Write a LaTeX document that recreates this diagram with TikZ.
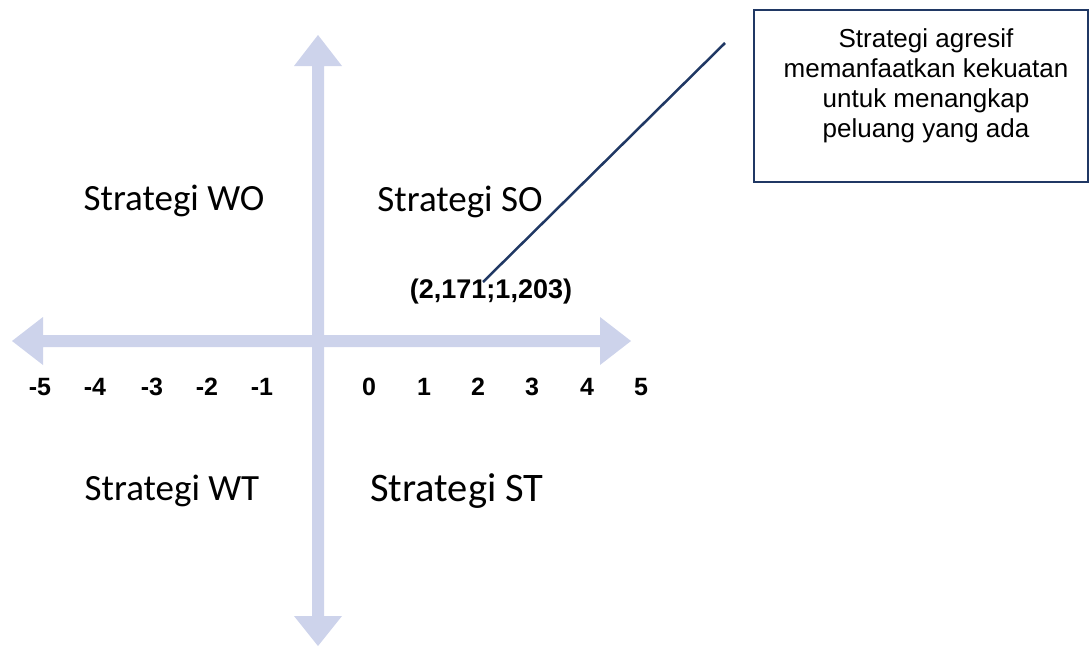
\documentclass[tikz,border=0pt]{standalone}
\usepackage{fontspec}
\setmainfont{Liberation Sans}
\newfontfamily\calibri{Carlito}
\definecolor{axiscol}{RGB}{205,211,235}
\definecolor{navy}{RGB}{32,56,100}
\begin{document}
\begin{tikzpicture}[x=1pt,y=-1pt,
  quad/.style={font=\calibri\fontsize{37}{40}\selectfont, anchor=base, inner sep=0pt},
  quadbig/.style={font=\calibri\fontsize{40.5}{44}\selectfont, anchor=base, inner sep=0pt},
  tick/.style={font=\bfseries\fontsize{25}{28}\selectfont, anchor=base, inner sep=0pt},
  arrowshape/.style={fill=axiscol, draw=none},
  connector/.style={draw=navy, line width=2.5pt},
  callout/.style={draw=navy, line width=2.5pt, minimum width=334pt, minimum height=172pt, inner sep=0pt}]
\useasboundingbox (0,0) rectangle (1092,646);
% vertical double arrow
\fill[arrowshape] (318,35) -- (342,66) -- (324,66) -- (324,616) -- (342,616) -- (318,646)
  -- (294,616) -- (312,616) -- (312,66) -- (294,66) -- cycle;
% horizontal double arrow
\fill[arrowshape] (12,341) -- (43,317) -- (43,335) -- (600,335) -- (600,317) -- (631,341)
  -- (600,365) -- (600,347) -- (43,347) -- (43,365) -- cycle;
% quadrant labels
\node[quad] (wo) at (174,210) {Strategi WO};
\node[quad] (so) at (460,211) {Strategi SO};
\node[quad] (wt) at (172,500) {Strategi WT};
\node[quadbig] (st) at (457,501) {Strategi ST};
% axis numbers
\node[tick] (m5) at (40,395) {-5};
\node[tick] (m4) at (95,395) {-4};
\node[tick] (m3) at (152,395) {-3};
\node[tick] (m2) at (207,395) {-2};
\node[tick] (m1) at (262,395) {-1};
\node[tick] (p0) at (369,395) {0};
\node[tick] (p1) at (424,395) {1};
\node[tick] (p2) at (478,395) {2};
\node[tick] (p3) at (532,395) {3};
\node[tick] (p4) at (587,395) {4};
\node[tick] (p5) at (641,395) {5};
% point label
\node[font=\bfseries\fontsize{27}{30}\selectfont, anchor=base, inner sep=0pt] (pt) at (491,298) {(2,171;1,203)};
% callout box
\node[callout] (box) at (921,96) {};
\node[font=\fontsize{26}{30.3}\selectfont, align=center, anchor=north, inner sep=0pt] (boxtext) at (926,28)
  {Strategi agresif\\memanfaatkan kekuatan\\untuk menangkap\\peluang yang ada};
% connector
\coordinate (cstart) at (483,282);
\coordinate (cend) at (725,43);
\draw[connector] (cstart) -- (cend);
\end{tikzpicture}
\end{document}
